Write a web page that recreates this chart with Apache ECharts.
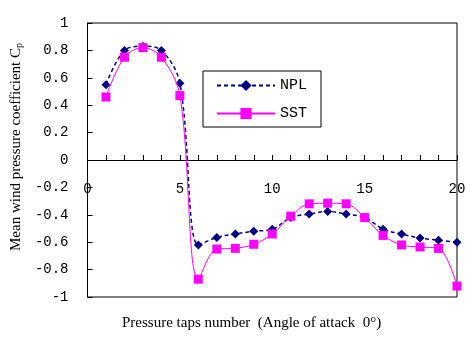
<!DOCTYPE html>
<html>
<head>
<meta charset="utf-8">
<script src="https://cdn.jsdelivr.net/npm/echarts@6/dist/echarts.min.js"></script>
<style>
  html, body { margin: 0; padding: 0; background: #fff; }
  #chart { width: 476px; height: 341px; }
</style>
</head>
<body>
<div id="chart"></div>
<script>
// pressure tap numbers 1..20
const taps = [1, 2, 3, 4, 5, 6, 7, 8, 9, 10, 11, 12, 13, 14, 15, 16, 17, 18, 19, 20];
const nplCp = [0.55, 0.80, 0.83, 0.80, 0.56, -0.62, -0.565, -0.54, -0.52, -0.505, -0.42, -0.395, -0.375, -0.395, -0.42, -0.505, -0.54, -0.57, -0.585, -0.60];
const sstCp = [0.46, 0.75, 0.82, 0.75, 0.47, -0.87, -0.65, -0.645, -0.615, -0.54, -0.41, -0.32, -0.315, -0.32, -0.42, -0.55, -0.62, -0.635, -0.645, -0.92];

const monoFont = '"Liberation Mono", "DejaVu Sans Mono", monospace';
const serifFont = '"Liberation Serif", "DejaVu Serif", serif';

const chart = echarts.init(document.getElementById('chart'), null, { renderer: 'canvas' });

const pairs = arr => taps.map((t, i) => [t, arr[i]]);

chart.setOption({
  animation: false,
  backgroundColor: '#fff',
  title: {
    text: 'Pressure taps number  (Angle of attack  0°)',
    left: 117,
    top: 311,
    textStyle: { fontFamily: serifFont, fontSize: 15, fontWeight: 'normal', color: '#000' }
  },
  grid: {
    left: 84, right: 19, top: 23, bottom: 44,
    show: true, borderColor: '#000', borderWidth: 1
  },
  legend: {
    orient: 'vertical',
    left: 203, top: 71,
    padding: [7, 14, 6, 13],
    itemWidth: 58, itemHeight: 14, itemGap: 13,
    borderColor: '#000', borderWidth: 1,
    textStyle: { fontFamily: monoFont, fontSize: 15, color: '#000' },
    data: ['NPL', 'SST']
  },
  xAxis: {
    type: 'value',
    position: 'bottom',
    offset: -137,   // sits on Cp = 0
    min: 0, max: 20, interval: 1,
    axisLine: { show: true, onZero: false, lineStyle: { color: '#000', width: 1 } },
    axisTick: { show: true, inside: true, length: 5, lineStyle: { color: '#000', width: 1 } },
    axisLabel: {
      margin: 22,
      fontFamily: monoFont, fontSize: 14, color: '#000',
      formatter: v => (v % 5 === 0 ? String(v) : '')
    },
    splitLine: { show: false }
  },
  yAxis: {
    type: 'value',
    min: -1, max: 1, interval: 0.2,
    name: 'Mean wind pressure coefficient C{sub|p}',
    nameLocation: 'middle',
    nameGap: 60,
    nameTextStyle: {
      fontFamily: serifFont, fontSize: 15, color: '#000', lineHeight: 16,
      padding: [0, 0, 0, 26],
      rich: { sub: { fontFamily: serifFont, fontSize: 10, lineHeight: 10, verticalAlign: 'bottom' } }
    },
    axisLine: { show: true, onZero: false, lineStyle: { color: '#000', width: 1 } },
    axisTick: { show: true, inside: true, length: 5, lineStyle: { color: '#000', width: 1 } },
    axisLabel: { margin: 19, fontFamily: monoFont, fontSize: 14, color: '#000' },
    splitLine: { show: false }
  },
  series: [
    {
      name: 'NPL',
      type: 'line',
      data: pairs(nplCp),
      smooth: 0.35,
      symbol: 'diamond',
      symbolSize: 9,
      itemStyle: { color: '#000080' },
      lineStyle: { color: '#000080', width: 1.5, type: [4, 3] },
      z: 2
    },
    {
      name: 'SST',
      type: 'line',
      data: pairs(sstCp),
      smooth: 0.35,
      symbol: 'rect',
      symbolSize: 9,
      itemStyle: { color: '#FF00FF' },
      lineStyle: { color: '#FF00FF', width: 1 },
      z: 3
    }
  ]
});
</script>
</body>
</html>
